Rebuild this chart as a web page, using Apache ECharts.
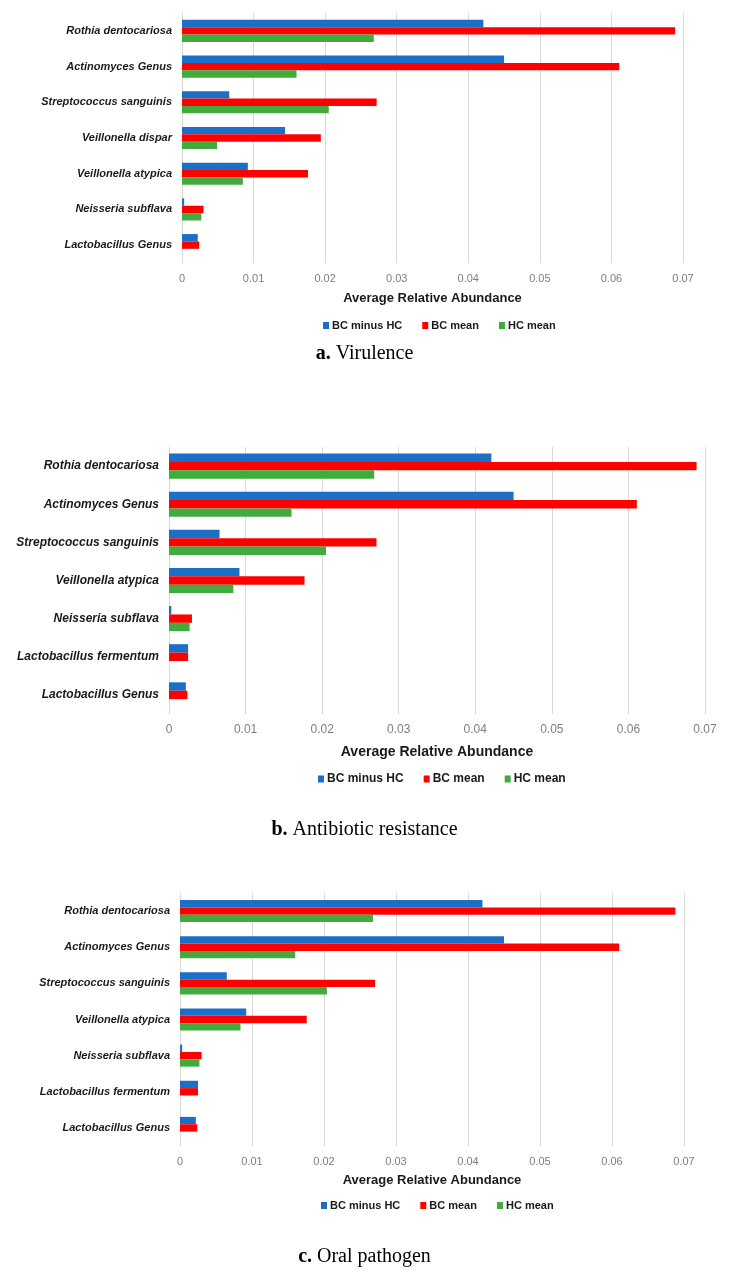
<!DOCTYPE html>
<html>
<head>
<meta charset="utf-8">
<script src="https://cdn.jsdelivr.net/npm/echarts@6/dist/echarts.min.js"></script>
<style>
html,body{margin:0;padding:0;background:#fff;}
#chart{width:729px;height:1274px;}
</style>
</head>
<body>
<div id="chart"></div>
<script>
// ---- Data ----
var seriesNames = ['BC minus HC', 'BC mean', 'HC mean'];
var xTicks = [0, 0.01, 0.02, 0.03, 0.04, 0.05, 0.06, 0.07];

// Panel a: Virulence
var catsA = ['Rothia dentocariosa', 'Actinomyces Genus', 'Streptococcus sanguinis', 'Veillonella dispar', 'Veillonella atypica', 'Neisseria subflava', 'Lactobacillus Genus'];
var diffA = [0.0421, 0.0450, 0.0066, 0.0144, 0.0092, 0.0003, 0.0022];
var bcA   = [0.0689, 0.0611, 0.0272, 0.0194, 0.0176, 0.0030, 0.0024];
var hcA   = [0.0268, 0.0160, 0.0205, 0.0049, 0.0085, 0.0027, 0];

// Panel b: Antibiotic resistance
var catsB = ['Rothia dentocariosa', 'Actinomyces Genus', 'Streptococcus sanguinis', 'Veillonella atypica', 'Neisseria subflava', 'Lactobacillus fermentum', 'Lactobacillus Genus'];
var diffB = [0.0421, 0.0450, 0.0066, 0.0092, 0.0003, 0.0025, 0.0022];
var bcB   = [0.0689, 0.0611, 0.0271, 0.0177, 0.0030, 0.0025, 0.0024];
var hcB   = [0.0268, 0.0160, 0.0205, 0.0084, 0.0027, 0, 0];

// Panel c: Oral pathogen
var catsC = ['Rothia dentocariosa', 'Actinomyces Genus', 'Streptococcus sanguinis', 'Veillonella atypica', 'Neisseria subflava', 'Lactobacillus fermentum', 'Lactobacillus Genus'];
var diffC = [0.0420, 0.0450, 0.0065, 0.0092, 0.0003, 0.0025, 0.0022];
var bcC   = [0.0688, 0.0610, 0.0271, 0.0176, 0.0030, 0.0025, 0.0024];
var hcC   = [0.0268, 0.0160, 0.0204, 0.0084, 0.0027, 0, 0];

var captions = [['a.', 'Virulence'], ['b.', 'Antibiotic resistance'], ['c.', 'Oral pathogen']];

// ---- Styling / layout ----
var colors = ['#1c6fc6', '#fe0000', '#42ab3d'];
var panels = [
  {cats: catsA, data: [diffA, bcA, hcA], grid: {left: 182, right: 46, top: 13, height: 250}, fs: 11, nameFs: 13, nameGap: 29, gap: '38%', legendTop: 315, legendLeft: 318, capTop: 339},
  {cats: catsB, data: [diffB, bcB, hcB], grid: {left: 169, right: 24, top: 447, height: 267}, fs: 12, nameFs: 14, nameGap: 31, gap: '34%', legendTop: 768, legendLeft: 313, capTop: 815},
  {cats: catsC, data: [diffC, bcC, hcC], grid: {left: 180, right: 45, top: 893, height: 253}, fs: 11, nameFs: 13, nameGap: 28, gap: '39%', legendTop: 1195, legendLeft: 316, capTop: 1242}
];

var option = {
  animation: false,
  backgroundColor: '#ffffff',
  color: colors,
  grid: [], xAxis: [], yAxis: [], series: [], legend: [], title: []
};

panels.forEach(function (p, i) {
  option.grid.push(p.grid);
  option.xAxis.push({
    type: 'value', gridIndex: i, min: xTicks[0], max: xTicks[xTicks.length - 1], interval: 0.01,
    axisLine: {show: false}, axisTick: {show: false},
    splitLine: {show: true, lineStyle: {color: '#d9d9d9', width: 1}},
    axisLabel: {color: '#7f7f7f', fontSize: p.fs, fontFamily: 'Liberation Sans', margin: 10,
      formatter: function (v) { return String(Math.round(v * 100) / 100); }},
    name: 'Average Relative Abundance', nameLocation: 'middle', nameGap: p.nameGap,
    nameTextStyle: {color: '#1a1a1a', fontSize: p.nameFs, fontWeight: 'bold', fontFamily: 'Liberation Sans'}
  });
  option.yAxis.push({
    type: 'category', gridIndex: i, data: p.cats, inverse: true,
    axisLine: {show: false}, axisTick: {show: false}, splitLine: {show: false},
    axisLabel: {color: '#1a1a1a', fontSize: p.fs, fontStyle: 'italic', fontWeight: 'bold', fontFamily: 'Liberation Sans', margin: 10}
  });
  seriesNames.forEach(function (n, k) {
    option.series.push({
      type: 'bar', name: n, xAxisIndex: i, yAxisIndex: i, data: p.data[k],
      barGap: '0%', barCategoryGap: p.gap,
      itemStyle: {color: colors[k]}
    });
  });
  option.legend.push({
    data: seriesNames, top: p.legendTop, left: p.legendLeft,
    orient: 'horizontal', icon: 'rect', itemWidth: 6, itemHeight: 7, itemGap: 20,
    textStyle: {color: '#1a1a1a', fontSize: p.fs, fontWeight: 'bold', fontFamily: 'Liberation Sans', padding: [0, 0, 0, -2]},
    selectedMode: false
  });
  option.title.push({
    text: '{b|' + captions[i][0] + '} ' + captions[i][1], left: 'center', top: p.capTop,
    textStyle: {fontFamily: 'Liberation Serif', fontSize: 20, fontWeight: 'normal', color: '#000',
      rich: {b: {fontFamily: 'Liberation Serif', fontSize: 20, fontWeight: 'bold', color: '#000'}}}
  });
});

var chart = echarts.init(document.getElementById('chart'), null, {renderer: 'canvas'});
chart.setOption(option);
</script>
</body>
</html>
